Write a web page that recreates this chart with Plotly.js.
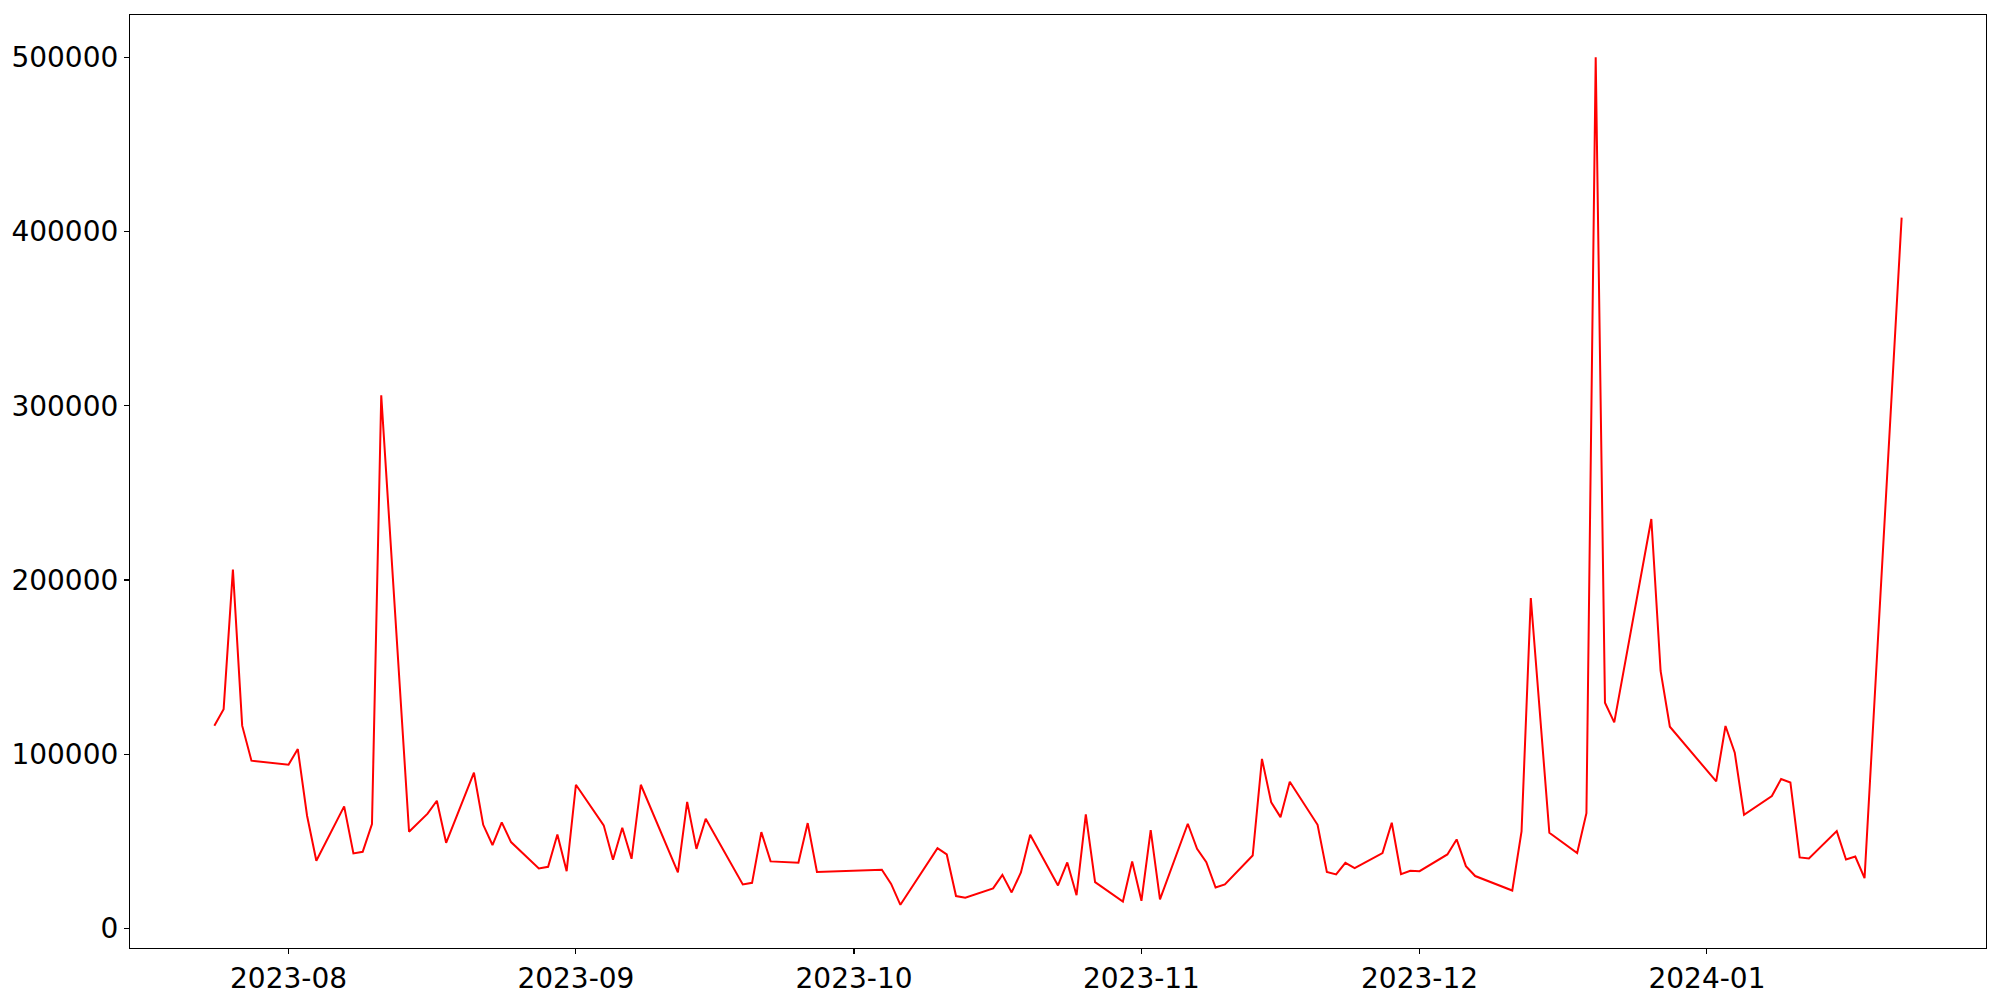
<!DOCTYPE html>
<html>
<head>
<meta charset="utf-8">
<script src="https://cdn.plot.ly/plotly-3.0.1.min.js"></script>
<style>html,body{margin:0;padding:0;background:#fff;}#chart{width:2000px;height:1000px;}</style>
</head>
<body>
<div id="chart"></div>
<script>
const dates = [
  "2023-07-24","2023-07-25","2023-07-26","2023-07-27","2023-07-28",
  "2023-08-01","2023-08-02","2023-08-03","2023-08-04","2023-08-07","2023-08-08","2023-08-09","2023-08-10","2023-08-11",
  "2023-08-14","2023-08-16","2023-08-17","2023-08-18","2023-08-21","2023-08-22","2023-08-23","2023-08-24","2023-08-25",
  "2023-08-28","2023-08-29","2023-08-30","2023-08-31","2023-09-01","2023-09-04","2023-09-05","2023-09-06","2023-09-07","2023-09-08",
  "2023-09-12","2023-09-13","2023-09-14","2023-09-15","2023-09-19","2023-09-20","2023-09-21","2023-09-22",
  "2023-09-25","2023-09-26","2023-09-27","2023-10-04","2023-10-05","2023-10-06","2023-10-10","2023-10-11","2023-10-12","2023-10-13",
  "2023-10-16","2023-10-17","2023-10-18","2023-10-19","2023-10-20","2023-10-23","2023-10-24","2023-10-25","2023-10-26","2023-10-27",
  "2023-10-30","2023-10-31","2023-11-01","2023-11-02","2023-11-03","2023-11-06","2023-11-07","2023-11-08","2023-11-09","2023-11-10",
  "2023-11-13","2023-11-14","2023-11-15","2023-11-16","2023-11-17","2023-11-20","2023-11-21","2023-11-22","2023-11-23","2023-11-24",
  "2023-11-27","2023-11-28","2023-11-29","2023-11-30","2023-12-01","2023-12-04","2023-12-05","2023-12-06","2023-12-07",
  "2023-12-11","2023-12-12","2023-12-13","2023-12-15","2023-12-18","2023-12-19","2023-12-20","2023-12-21","2023-12-22",
  "2023-12-26","2023-12-27","2023-12-28","2024-01-02","2024-01-03","2024-01-04","2024-01-05","2024-01-08","2024-01-09","2024-01-10",
  "2024-01-11","2024-01-12","2024-01-15","2024-01-16","2024-01-17","2024-01-18","2024-01-22"
];
const values = [
  116400,125900,206000,116400,96300,
  94000,103000,64700,38900,70100,43100,44000,59900,306000,
  55500,65900,73300,49200,89400,59500,47900,60900,49600,
  34500,35400,54000,32900,82500,59200,39400,57800,40000,82500,
  32200,72700,45700,63000,25300,26200,55300,38500,
  37700,60500,32400,33700,25600,13600,46100,42500,18600,17600,
  23000,30800,20700,32200,53800,24700,37900,19100,65500,26600,
  15500,38500,15900,56500,16700,60100,45700,38100,23500,25300,
  41900,97300,72400,63900,84200,59500,32400,31000,37700,34700,
  43300,60700,31200,33100,32900,42500,51100,35800,30100,
  21800,55700,189700,54900,43300,66200,500000,129600,118300,
  235000,147800,115800,84400,116200,100900,65300,76000,85800,83800,
  40800,40200,55900,39600,41300,28900,408000
];
const yTicks = [0,100000,200000,300000,400000,500000];
const yTickLabels = ["0","100000","200000","300000","400000","500000"];
const xTicks = ["2023-08-01","2023-09-01","2023-10-01","2023-11-01","2023-12-01","2024-01-01"];
const xTickLabels = ["2023-08","2023-09","2023-10","2023-11","2023-12","2024-01"];

const trace = {
  x: dates, y: values, type: "scatter", mode: "lines",
  line: {color: "red", width: 2}, hoverinfo: "x+y"
};
const axisFont = {family: "DejaVu Sans, sans-serif", size: 28, color: "#000"};
const layout = {
  width: 2000, height: 1000,
  margin: {l: 130, r: 14, t: 15, b: 52, pad: 0},
  paper_bgcolor: "#fff", plot_bgcolor: "#fff",
  showlegend: false,
  font: axisFont,
  xaxis: {
    type: "date",
    range: ["2023-07-14 21:36", "2024-01-31 02:24"],
    tickmode: "array", tickvals: xTicks, ticktext: xTickLabels,
    ticks: "outside", ticklen: 5, tickwidth: 1.1, tickcolor: "#000",
    showline: true, mirror: true, linecolor: "#000", linewidth: 1.1,
    showgrid: false, zeroline: false, tickfont: axisFont
  },
  yaxis: {
    range: [-11200, 524300],
    tickmode: "array", tickvals: yTicks, ticktext: yTickLabels,
    ticks: "outside", ticklen: 5, tickwidth: 1.1, tickcolor: "#000",
    showline: true, mirror: true, linecolor: "#000", linewidth: 1.1,
    showgrid: false, zeroline: false, tickfont: axisFont
  }
};
Plotly.newPlot("chart", [trace], layout, {staticPlot: true, displayModeBar: false});
</script>
</body>
</html>
